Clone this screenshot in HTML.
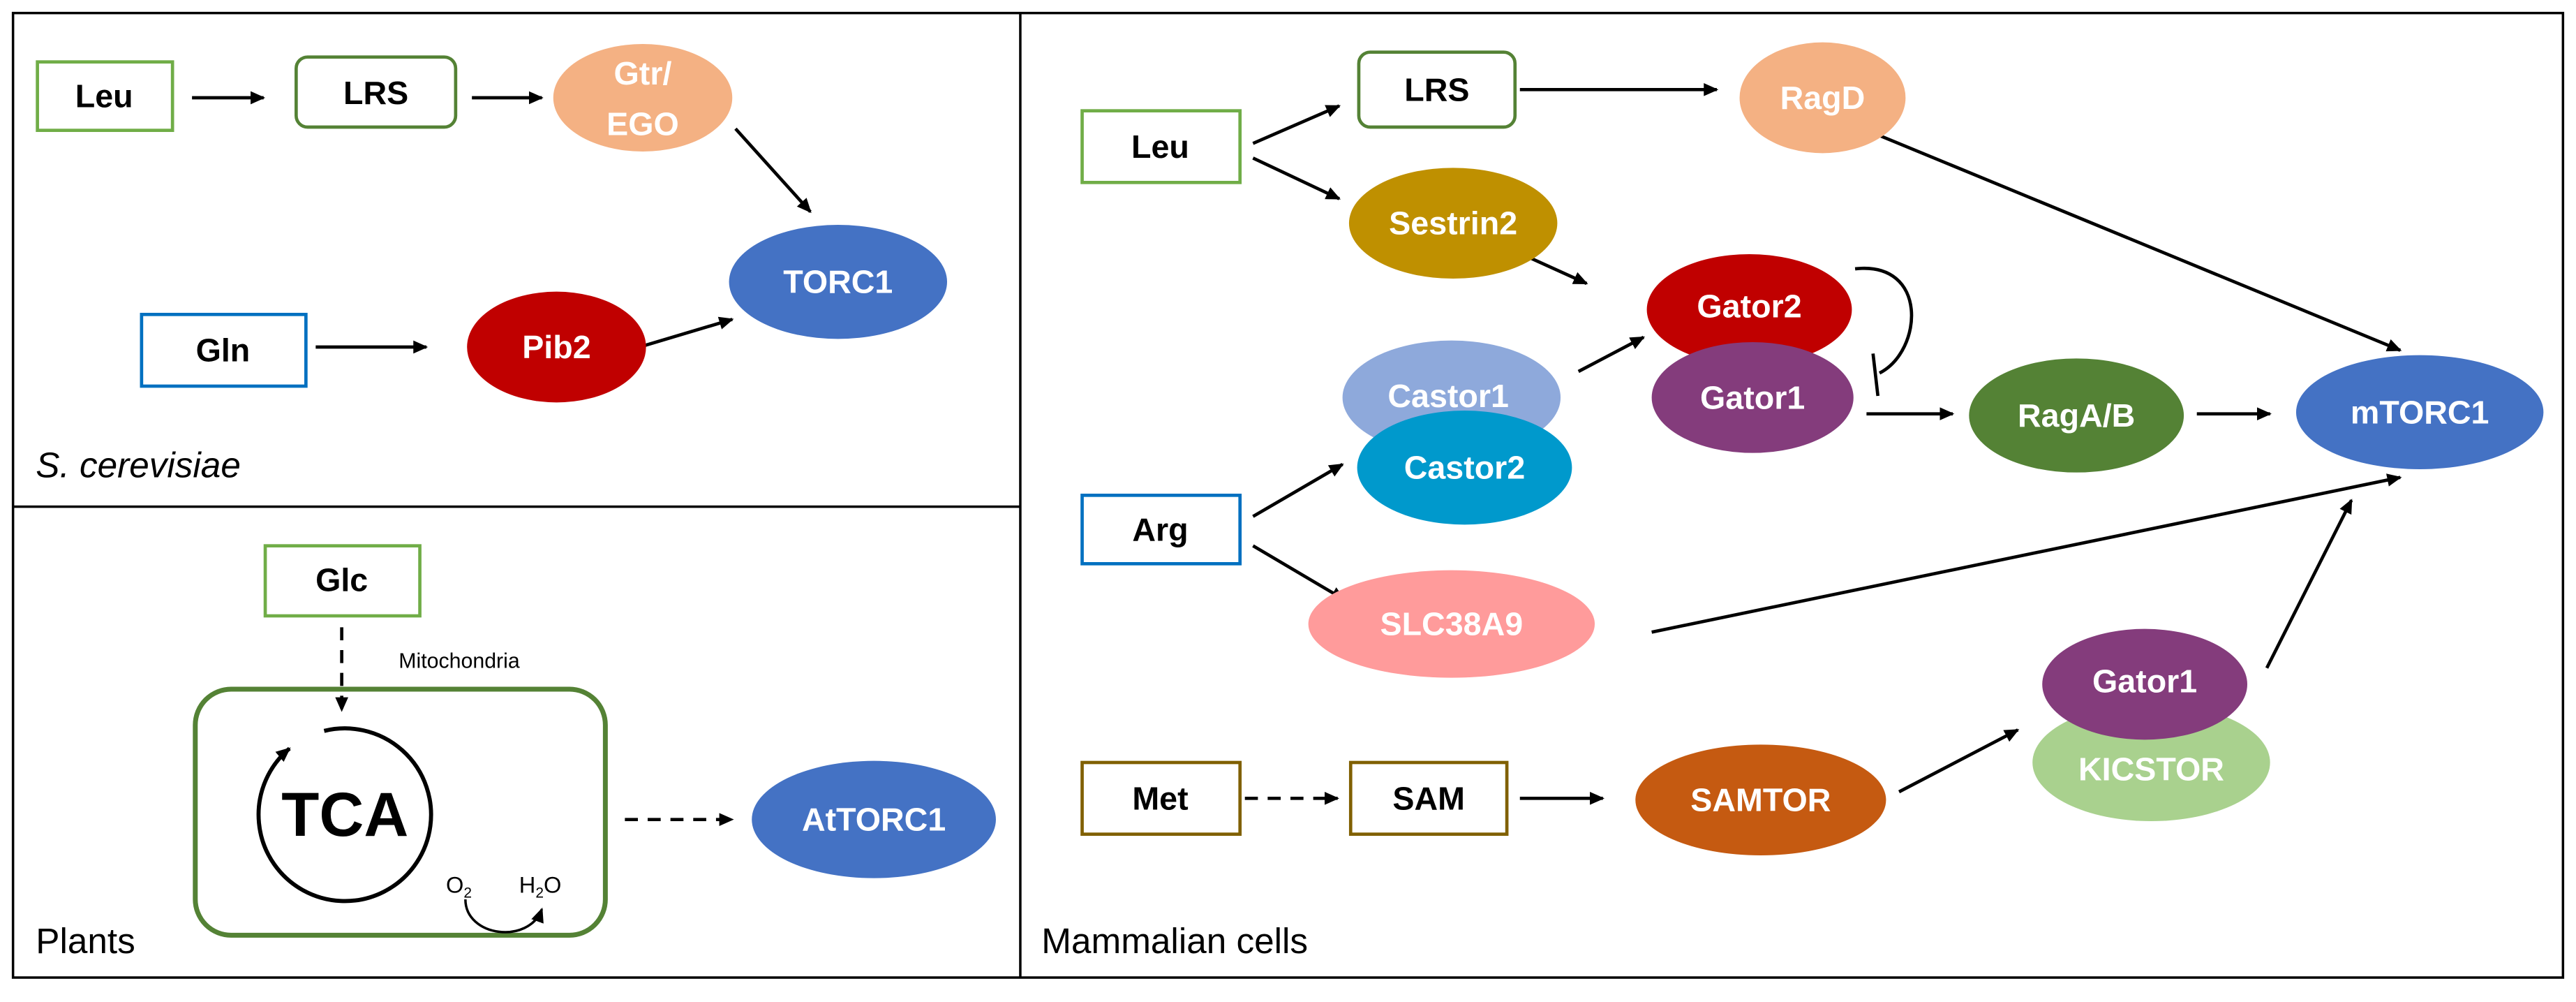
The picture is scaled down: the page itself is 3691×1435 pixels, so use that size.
<!DOCTYPE html>
<html><head><meta charset="utf-8"><style>
html,body{margin:0;padding:0;background:#fff}
svg{display:block}
text{font-family:"Liberation Sans",sans-serif}
.b{font-weight:bold;font-size:20px;text-anchor:middle;dominant-baseline:central}
.w{fill:#fff}
</style></head><body>
<svg width="3691" height="1435" viewBox="0 0 1583 615" preserveAspectRatio="none" xmlns="http://www.w3.org/2000/svg">
<defs>
<marker id="a" markerWidth="10" markerHeight="10" refX="8" refY="5" orient="auto" markerUnits="userSpaceOnUse"><path d="M0,1 L9,5 L0,9 z" fill="#000"/></marker>
</defs>
<rect width="1583" height="615" fill="#fff"/>
<rect x="8" y="8" width="1567" height="592" fill="none" stroke="#000" stroke-width="1.5"/>
<line x1="627" y1="8" x2="627" y2="600" stroke="#000" stroke-width="1.5"/>
<line x1="8" y1="311" x2="627" y2="311" stroke="#000" stroke-width="1.5"/>

<g stroke="#000" stroke-width="2" fill="none" marker-end="url(#a)">
<line x1="118" y1="60" x2="162" y2="60"/>
<line x1="290" y1="60" x2="333" y2="60"/>
<line x1="452" y1="79" x2="498" y2="130"/>
<line x1="194" y1="213" x2="262" y2="213"/>
<line x1="393" y1="213" x2="450" y2="196"/>
<line x1="210" y1="385" x2="210" y2="436" stroke-dasharray="8,6"/>
<line x1="384" y1="503" x2="450" y2="503" stroke-dasharray="8,6"/>
<line x1="934" y1="55" x2="1055" y2="55"/>
<line x1="1140" y1="77" x2="1475" y2="215"/>
<line x1="770" y1="88" x2="823" y2="65"/>
<line x1="770" y1="97" x2="823" y2="122"/>
<line x1="933" y1="155" x2="975" y2="174"/>
<line x1="970" y1="228" x2="1010" y2="207"/>
<line x1="1147" y1="254" x2="1200" y2="254"/>
<line x1="1350" y1="254" x2="1395" y2="254"/>
<line x1="770" y1="317" x2="825" y2="285"/>
<line x1="770" y1="335" x2="826" y2="368"/>
<line x1="1015" y1="388" x2="1475" y2="293"/>
<line x1="765" y1="490" x2="822" y2="490" stroke-dasharray="8,6"/>
<line x1="934" y1="490" x2="985" y2="490"/>
<line x1="1167" y1="486" x2="1240" y2="448"/>
<line x1="1393" y1="410" x2="1445" y2="307"/>
</g>

<!-- yeast -->
<rect x="23" y="38" width="83" height="42" fill="none" stroke="#70AD47" stroke-width="2"/>
<text class="b" x="64" y="59">Leu</text>
<rect x="182" y="35" width="98" height="43" rx="7" fill="none" stroke="#548235" stroke-width="2"/>
<text class="b" x="231" y="57">LRS</text>
<ellipse cx="395" cy="60" rx="55" ry="33" fill="#F4B183"/>
<text class="b w" x="395" y="45">Gtr/</text>
<text class="b w" x="395" y="76">EGO</text>
<ellipse cx="515" cy="173" rx="67" ry="35" fill="#4472C4"/>
<text class="b w" x="515" y="173">TORC1</text>
<rect x="87" y="193" width="101" height="44" fill="none" stroke="#0070C0" stroke-width="2"/>
<text class="b" x="137" y="215">Gln</text>
<ellipse cx="342" cy="213" rx="55" ry="34" fill="#C00000"/>
<text class="b w" x="342" y="213">Pib2</text>
<text x="22" y="293" font-size="22" font-style="italic">S. cerevisiae</text>

<!-- plants -->
<rect x="163" y="335" width="95" height="43" fill="none" stroke="#70AD47" stroke-width="2"/>
<text class="b" x="210" y="356">Glc</text>
<text x="245" y="410" font-size="13">Mitochondria</text>
<rect x="120" y="423" width="252" height="151" rx="22" fill="none" stroke="#548235" stroke-width="3"/>
<path d="M199.2,448.6 A53,53 0 1 1 177.9,459.4" fill="none" stroke="#000" stroke-width="2.5" marker-end="url(#a)"/>
<text x="212" y="500" font-size="38" font-weight="bold" text-anchor="middle" dominant-baseline="central">TCA</text>
<text x="282" y="548" font-size="14" text-anchor="middle">O<tspan font-size="9" dy="3">2</tspan></text>
<text x="332" y="548" font-size="14" text-anchor="middle">H<tspan font-size="9" dy="3">2</tspan><tspan dy="-3">O</tspan></text>
<path d="M286,552 C286,575 325,580 333,558" fill="none" stroke="#000" stroke-width="1.5" marker-end="url(#a)"/>
<ellipse cx="537" cy="503" rx="75" ry="36" fill="#4472C4"/>
<text class="b w" x="537" y="503" font-size="22">AtTORC1</text>
<text x="22" y="585" font-size="22">Plants</text>

<!-- mammalian -->
<rect x="665" y="68" width="97" height="44" fill="none" stroke="#70AD47" stroke-width="2"/>
<text class="b" x="713" y="90">Leu</text>
<rect x="835" y="32" width="96" height="46" rx="7" fill="none" stroke="#548235" stroke-width="2"/>
<text class="b" x="883" y="55">LRS</text>
<ellipse cx="1120" cy="60" rx="51" ry="34" fill="#F4B183"/>
<text class="b w" x="1120" y="60">RagD</text>
<ellipse cx="893" cy="137" rx="64" ry="34" fill="#BF9000"/>
<text class="b w" x="893" y="137">Sestrin2</text>
<ellipse cx="1075" cy="190" rx="63" ry="34" fill="#C00000"/>
<text class="b w" x="1075" y="188">Gator2</text>
<ellipse cx="1077" cy="244" rx="62" ry="34" fill="#843C7C"/>
<text class="b w" x="1077" y="244">Gator1</text>
<path d="M1140,165 C1185,160 1182,215 1155,229" fill="none" stroke="#000" stroke-width="2"/>
<line x1="1151" y1="217" x2="1154" y2="243" stroke="#000" stroke-width="2"/>
<ellipse cx="892" cy="244" rx="67" ry="35" fill="#8EA9DB"/>
<text class="b w" x="890" y="243">Castor1</text>
<ellipse cx="900" cy="287" rx="66" ry="35" fill="#0099CC"/>
<text class="b w" x="900" y="287">Castor2</text>
<ellipse cx="1276" cy="255" rx="66" ry="35" fill="#548235"/>
<text class="b w" x="1276" y="255">RagA/B</text>
<ellipse cx="1487" cy="253" rx="76" ry="35" fill="#4472C4"/>
<text class="b w" x="1487" y="253">mTORC1</text>
<rect x="665" y="304" width="97" height="42" fill="none" stroke="#0070C0" stroke-width="2"/>
<text class="b" x="713" y="325">Arg</text>
<ellipse cx="892" cy="383" rx="88" ry="33" fill="#FF9B9B"/>
<text class="b w" x="892" y="383">SLC38A9</text>
<rect x="665" y="468" width="97" height="44" fill="none" stroke="#806000" stroke-width="2"/>
<text class="b" x="713" y="490">Met</text>
<rect x="830" y="468" width="96" height="44" fill="none" stroke="#806000" stroke-width="2"/>
<text class="b" x="878" y="490">SAM</text>
<ellipse cx="1082" cy="491" rx="77" ry="34" fill="#C55A11"/>
<text class="b w" x="1082" y="491">SAMTOR</text>
<ellipse cx="1322" cy="468" rx="73" ry="36" fill="#A9D18E"/>
<text class="b w" x="1322" y="472">KICSTOR</text>
<ellipse cx="1318" cy="420" rx="63" ry="34" fill="#843C7C"/>
<text class="b w" x="1318" y="418">Gator1</text>
<text x="640" y="585" font-size="22">Mammalian cells</text>
</svg>
</body></html>
